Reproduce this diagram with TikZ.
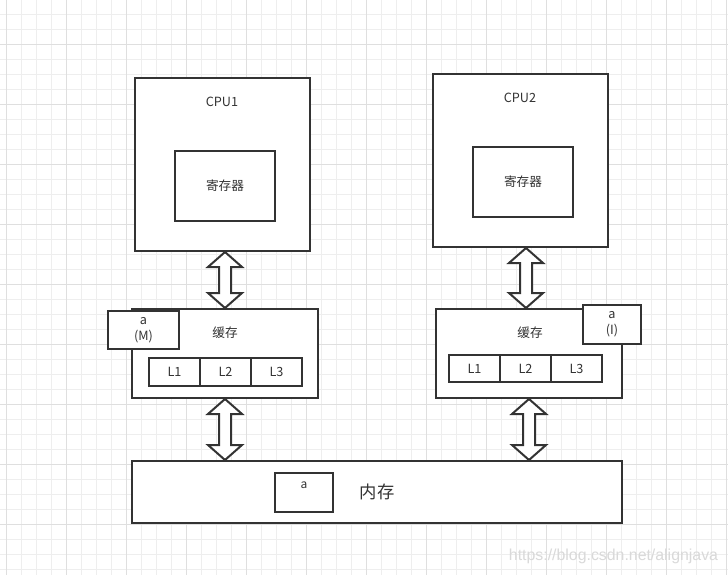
\documentclass[tikz,border=0pt]{standalone}
\usepackage{fontspec}
\setmainfont{Noto Sans CJK SC}
\usetikzlibrary{calc}
\definecolor{ink}{HTML}{333333}
\definecolor{txt}{HTML}{333333}
\definecolor{gridminor}{HTML}{EEEEEE}
\definecolor{gridmajor}{HTML}{DFDFDF}
\definecolor{wm}{HTML}{D9D9D9}
\begin{document}
\begin{tikzpicture}[x=0.75pt,y=-0.75pt,
  box/.style={draw=ink,line width=1.5pt,fill=white,rectangle,inner sep=0pt,text=txt,font=\fontsize{9.5}{12}\selectfont},
  sz/.style 2 args={minimum width={#1*0.75pt},minimum height={#2*0.75pt}},
  lbl/.style={text=txt,inner sep=0pt,font=\fontsize{9.5}{12}\selectfont},
  blockarrow/.style={draw=ink,line width=1.5pt,fill=white,line join=miter},
  minorline/.style={draw=gridminor,line width=0.75pt},
  majorline/.style={draw=gridmajor,line width=0.75pt}]
\useasboundingbox (0,0) rectangle (728,575);
\fill[white] (0,0) rectangle (728,575);
% grid
\foreach \i in {0,...,48} \draw[minorline] ({6+15*\i},0) -- ({6+15*\i},575);
\foreach \j in {0,...,37} \draw[minorline] (0,{14+15*\j}) -- (728,{14+15*\j});
\foreach \i in {0,...,12} \draw[majorline] ({6+60*\i},0) -- ({6+60*\i},575);
\foreach \j in {0,...,8} \draw[majorline] (0,{44+60*\j}) -- (728,{44+60*\j});
% CPU1
\node[box,sz={175}{173}] (cpu1) at (222.5,164.5) {};
\node[lbl] (cpu1lbl) at (222,102) {CPU1};
\node[box,sz={100}{70}] (reg1) at (225,186) {寄存器};
% CPU2
\node[box,sz={175}{173}] (cpu2) at (520.5,160.5) {};
\node[lbl] (cpu2lbl) at (520,98) {CPU2};
\node[box,sz={100}{70}] (reg2) at (523,182) {寄存器};
% cache1
\node[box,sz={186}{89}] (cache1) at (225,353.5) {};
\node[lbl] (cache1lbl) at (225,333) {缓存};
\node[box,sz={51}{28}] (c1l1) at (174.5,372) {L1};
\node[box,sz={51}{28}] (c1l2) at (225.5,372) {L2};
\node[box,sz={51}{28}] (c1l3) at (276.5,372) {L3};
\node[box,sz={71}{38},align=center] (am) at (143.5,330) {a\\(M)};
% cache2
\node[box,sz={186}{89}] (cache2) at (529,353.5) {};
\node[lbl] (cache2lbl) at (530,333) {缓存};
\node[box,sz={51}{27}] (c2l1) at (474.5,368.5) {L1};
\node[box,sz={51}{27}] (c2l2) at (525.5,368.5) {L2};
\node[box,sz={51}{27}] (c2l3) at (576.5,368.5) {L3};
\node[box,sz={58}{39},align=center] (ai) at (612,324.5) {a\\(I)};
% memory
\node[box,sz={490}{62}] (mem) at (377,492) {};
\node[lbl,font=\fontsize{13}{15}\selectfont] (memlbl) at (377,492) {内存};
\node[box,sz={58}{39}] (ma) at (304,492.5) {};
\node[lbl,font=\fontsize{9}{10}\selectfont] (malbl) at (304,485) {a};
% arrow endpoints
\coordinate (t1) at (cache1.north |- cpu1.south);
\coordinate (b1) at (cache1.north);
\coordinate (t2) at (cache1.south);
\coordinate (b2) at (cache1.south |- mem.north);
\coordinate (t3) at ($(cpu2.south)+(5.5,0)$);
\coordinate (b3) at (t3 |- cache2.north);
\coordinate (t4) at (cache2.south);
\coordinate (b4) at (cache2.south |- mem.north);
\foreach \t/\b in {t1/b1,t2/b2,t3/b3,t4/b4}{
  \draw[blockarrow] (\t) -- ++(17,15) -- ++(-11,0) -- ($(\b)+(6,-15)$) -- ++(11,0) -- (\b)
    -- ++(-17,-15) -- ++(11,0) -- ($(\t)+(-6,15)$) -- ++(-11,0) -- cycle;
}
% watermark
\node[text=wm,inner sep=0pt,font=\fontspec{Liberation Sans}\fontsize{11.9}{13}\selectfont] (wmark) at (613.5,556) {https://blog.csdn.net/alignjava};
\end{tikzpicture}
\end{document}
